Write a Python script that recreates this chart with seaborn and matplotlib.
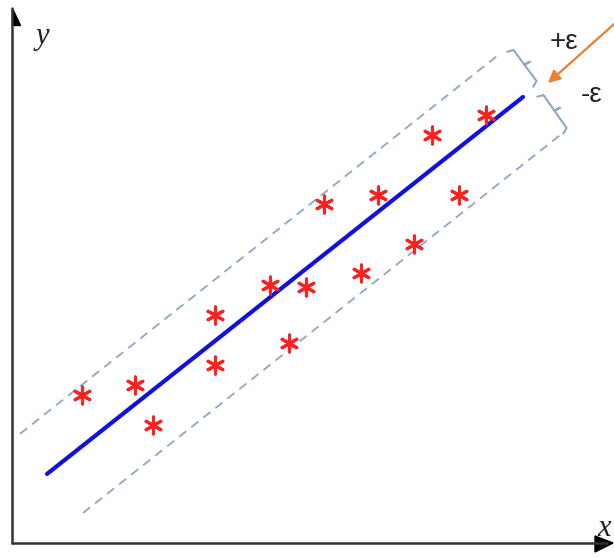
import numpy as np
import pandas as pd
import matplotlib
matplotlib.use("Agg")
import matplotlib.pyplot as plt
from matplotlib.patches import Polygon
import seaborn as sns

sns.set_theme(style="white")

# Sample observations
x_obs = [1.40, 2.46, 2.82, 4.06, 4.06, 5.16, 5.88, 5.54, 6.24, 7.32, 6.98, 8.04, 8.40, 8.94, 9.48]
y_obs = [2.96, 3.16, 2.36, 4.56, 3.56, 5.16, 5.12, 4.00, 6.78, 6.96, 5.40, 5.98, 8.16, 6.96, 8.56]

# Fitted line y = slope * x + intercept and the tube margins
slope = 0.792
intercept = 0.826
eps_upper = 1.23
eps_lower = 1.35
fit_x = [0.70, 10.22]
upper_x = [0.16, 9.76]
lower_x = [1.42, 10.96]

fig = plt.figure(figsize=(6.14, 5.57), dpi=100)
ax = fig.add_axes([0, 0, 1, 1])
ax.set_xlim(-12 / 50, 602 / 50)
ax.set_ylim(-14 / 50, 543 / 50)
ax.set_aspect("equal", adjustable="datalim")
ax.axis("off")

fit = pd.DataFrame({"x": fit_x, "y": [slope * v + intercept for v in fit_x]})
up = pd.DataFrame({"x": upper_x, "y": [slope * v + intercept + eps_upper for v in upper_x]})
lo = pd.DataFrame({"x": lower_x, "y": [slope * v + intercept - eps_lower for v in lower_x]})

dash_col = "#8ea6c8"
sns.lineplot(data=up, x="x", y="y", ax=ax, color=dash_col, lw=1.3,
             dashes=False, linestyle=(0, (5, 3.5)))
sns.lineplot(data=lo, x="x", y="y", ax=ax, color=dash_col, lw=1.3,
             dashes=False, linestyle=(0, (5, 3.5)))
sns.lineplot(data=fit, x="x", y="y", ax=ax, color="#1010e0", lw=3.0,
             solid_capstyle="round")

pts = pd.DataFrame({"x": x_obs, "y": y_obs})
sns.scatterplot(data=pts, x="x", y="y", ax=ax, marker=(6, 2, 0), s=150,
                color="#ff2020", edgecolor="#ff2020", linewidth=2.2, zorder=5)

# Coordinate axes with arrowheads
axis_col = "#333333"
ax.plot([0, 0], [0, 10.7], color=axis_col, lw=1.8, clip_on=False)
ax.plot([0, 11.9], [0, 0], color=axis_col, lw=1.8, clip_on=False)
ax.add_patch(Polygon([[0, 10.70], [0, 10.36], [0.16, 10.36]], closed=True,
                     color="black", clip_on=False))
ax.add_patch(Polygon([[12.02, 0.0], [11.66, 0.14], [11.66, -0.18]], closed=True,
                     color="black", clip_on=False))
ax.text(0.60, 10.12, "y", fontsize=22, family="Liberation Serif",
        style="italic", ha="center", va="center", color="#222222")
ax.text(11.84, 0.30, "x", fontsize=22, family="Liberation Serif",
        style="italic", ha="center", va="center", color="#222222")


def brace(p0, p1, hook=0.12, tick=0.12):
    p0 = np.asarray(p0, float)
    p1 = np.asarray(p1, float)
    d = p1 - p0
    d /= np.hypot(*d)
    along = np.array([1.0, slope])
    along /= np.hypot(*along)
    mid = (p0 + p1) / 2
    pts_ = [p0 - hook * along,
            p0 + 0.05 * d,
            mid - 0.02 * d,
            mid + tick * along,
            mid - 0.02 * d,
            mid + 0.02 * d,
            p1 - 0.05 * d,
            p1 - hook * along]
    pts_ = np.array(pts_)
    ax.plot(pts_[:, 0], pts_[:, 1], color=dash_col, lw=1.5, clip_on=False)


brace((10.00, 9.90), (10.52, 9.20))
brace((10.60, 9.00), (11.12, 8.26))

ax.text(11.04, 10.02, "+ε", fontsize=20, family="Liberation Sans",
        ha="center", va="center", color="#222222")
ax.text(11.60, 8.96, "-ε", fontsize=20, family="Liberation Sans",
        ha="center", va="center", color="#222222")

ax.annotate("", xy=(10.72, 9.20), xytext=(12.20, 10.52),
            arrowprops=dict(arrowstyle="-|>", color="#e8802e", lw=1.6,
                            mutation_scale=18, shrinkA=0, shrinkB=0),
            annotation_clip=False)

fig.savefig("out.png", dpi=100)
